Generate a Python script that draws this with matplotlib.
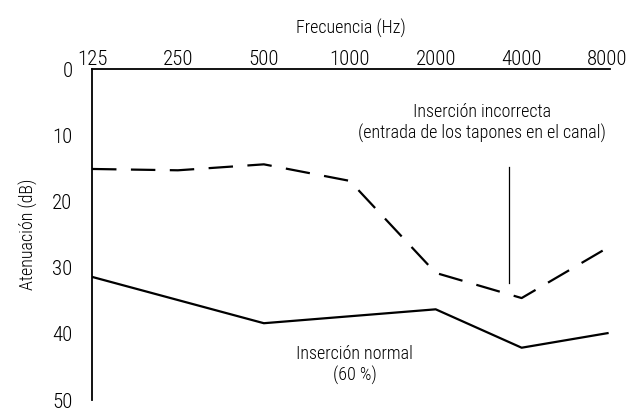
import matplotlib
matplotlib.use("Agg")
import numpy as np
from matplotlib import pyplot as plt

plt.rcParams['font.family'] = ['Roboto Condensed', 'DejaVu Sans']
plt.rcParams['font.weight'] = 'light'
plt.rcParams['axes.labelweight'] = 'light'

# frequencies (Hz) and attenuation (dB)
freq_ticks = [125, 250, 500, 1000, 2000, 4000, 8000]
atten_ticks = [0, 10, 20, 30, 40, 50]

incorrect_freq = [125, 250, 500, 1000, 2000, 4000, 8000]
incorrect_db = [15.1, 15.3, 14.4, 16.9, 30.8, 34.6, 27.0]

normal_freq = [125, 500, 2000, 4000, 8000]
normal_db = [31.4, 38.4, 36.3, 42.1, 39.9]

fig = plt.figure(figsize=(6.29, 4.12), dpi=100)
ax = fig.add_axes([0.1463, 0.0291, 0.970 - 0.1463, 0.8325 - 0.0291])

ax.plot(incorrect_freq, incorrect_db, color='black', linewidth=1.6,
        dashes=(11, 6.5), solid_capstyle='butt', dash_capstyle='butt')
ax.plot(normal_freq, normal_db, color='black', linewidth=1.6)

# pointer line for the "incorrect insertion" label
ax.plot([3600, 3600], [14.8, 32.3], color='black', linewidth=0.9)

ax.text(2900, 8.2, 'Inserción incorrecta\n(entrada de los tapones en el canal)',
        ha='center', va='center', fontsize=13, linespacing=1.2)
ax.text(1040, 44.7, 'Inserción normal\n(60 %)',
        ha='center', va='center', fontsize=13, linespacing=1.2)

ax.set_xscale('log', base=2)
ax.set_xlim(125, 125 * 2 ** 6.03)
ax.set_ylim(50, 0)

ax.set_xticks(freq_ticks)
ax.set_xticklabels([str(f) for f in freq_ticks])
ax.minorticks_off()
ax.set_yticks(atten_ticks)

ax.xaxis.tick_top()
ax.xaxis.set_label_position('top')
ax.tick_params(axis='x', length=0, pad=0, labelsize=15)
ax.tick_params(axis='y', length=0, pad=14, labelsize=15)

ax.set_xlabel('Frecuencia (Hz)', fontsize=13, labelpad=12)
ax.set_ylabel('Atenuación (dB)', fontsize=13, labelpad=10)

for side in ['right', 'bottom']:
    ax.spines[side].set_visible(False)
for side in ['top', 'left']:
    ax.spines[side].set_linewidth(1.3)

fig.savefig('out.png', dpi=100)
